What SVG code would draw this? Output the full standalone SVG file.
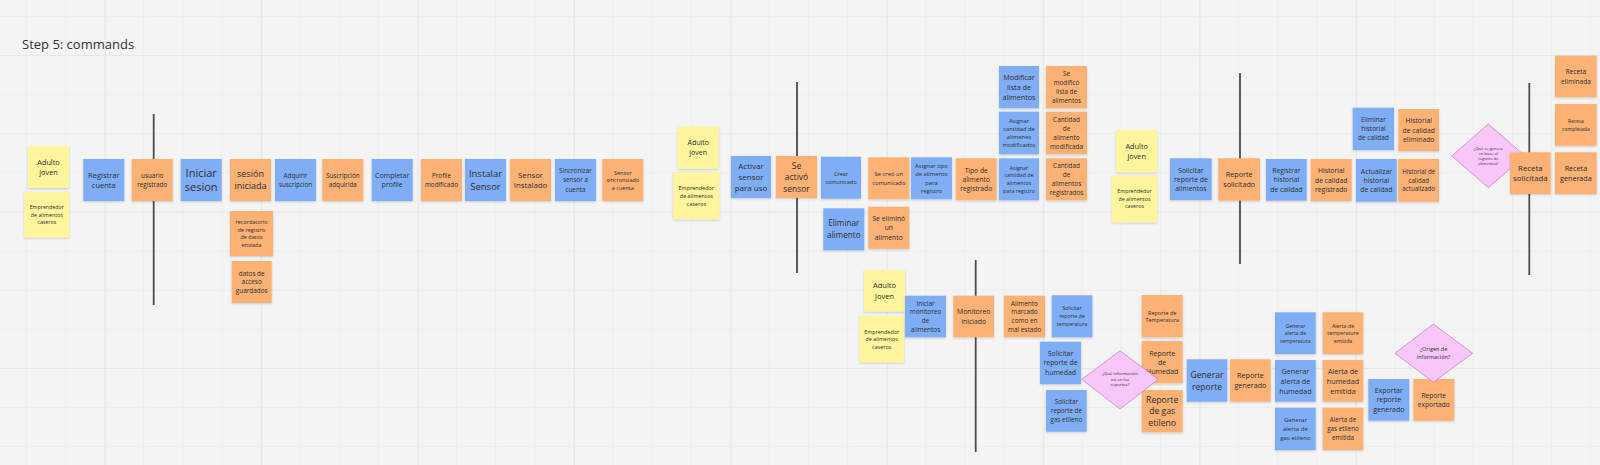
<svg xmlns="http://www.w3.org/2000/svg" width="1600" height="465" viewBox="0 0 1600 465">
<style>
.t{font-family:"Open Sans","Noto Sans",sans-serif;fill:#2e2e2e;text-anchor:middle}
.b{fill:#80aef6;filter:url(#sh)}
.o{fill:#fcb274;filter:url(#sh)}
.y{fill:#fff59c;filter:url(#sh)}
.d{fill:#f9c6f9;stroke:#bf7fbf;stroke-width:0.7}
.v{stroke:#4d4d4d;stroke-width:1.8;fill:none}
.title{font-family:"Open Sans","Noto Sans",sans-serif;font-size:13px;fill:#333}
</style>
<defs>
<filter id="sh" x="-10%" y="-10%" width="120%" height="130%">
<feDropShadow dx="0" dy="1" stdDeviation="0.8" flood-color="#000" flood-opacity="0.18"/>
</filter>
<pattern id="gmin" patternUnits="userSpaceOnUse" x="26" y="16" width="39.1" height="39.1">
<path d="M0 0H39.1M0 0V39.1" stroke="#e7e7e7" stroke-width="1" fill="none"/>
</pattern>
<pattern id="gmaj" patternUnits="userSpaceOnUse" x="104.9" y="55.1" width="156.4" height="156.4">
<path d="M0 0H156.4M0 0V156.4" stroke="#e0e0e0" stroke-width="1" fill="none"/>
</pattern>
</defs>
<rect width="1600" height="465" fill="#f4f4f4"/>
<rect width="1600" height="465" fill="url(#gmin)"/>
<rect width="1600" height="465" fill="url(#gmaj)"/>
<text class="title" x="22" y="49">Step 5: commands</text>

<g id="dividers">
<line class="v" x1="153.7" y1="114" x2="153.7" y2="305"/>
<line class="v" x1="797" y1="82" x2="797" y2="273"/>
<line class="v" x1="975.7" y1="260" x2="975.7" y2="452"/>
<line class="v" x1="1240" y1="73" x2="1240" y2="264"/>
<line class="v" x1="1529.3" y1="83" x2="1529.3" y2="275"/>
</g>
<g id="connectors"/>

<g id="n-adulto1"><rect class="y" x="28" y="146" width="41" height="42"/><text class="t" font-size="7.3"><tspan x="48.5" y="164.6">Adulto</tspan><tspan x="48.5" y="174.6">joven</tspan></text></g>
<g id="n-empr1"><rect class="y" x="24.3" y="192.3" width="45" height="45"/><text class="t" font-size="5.3"><tspan x="46.8" y="209.2">Emprendedor</tspan><tspan x="46.8" y="216.7">de alimentos</tspan><tspan x="46.8" y="224.2">caseros</tspan></text></g>
<g id="n-registrar"><rect class="b" x="83.3" y="159" width="41" height="42"/><text class="t" font-size="7.5"><tspan x="103.8" y="177.7">Registrar</tspan><tspan x="103.8" y="187.7">cuenta</tspan></text></g>
<g id="n-usuario"><rect class="o" x="131.7" y="159" width="41" height="42"/><text class="t" font-size="6.3"><tspan x="152.2" y="177.6">usuario</tspan><tspan x="152.2" y="186.9">registrado</tspan></text></g>
<g id="n-iniciar"><rect class="b" x="180.7" y="159" width="41" height="42"/><text class="t" font-size="11"><tspan x="201.2" y="176.6">Iniciar</tspan><tspan x="201.2" y="191.3">sesion</tspan></text></g>
<g id="n-sesion"><rect class="o" x="230" y="159" width="41" height="42"/><text class="t" font-size="9"><tspan x="250.5" y="177.1">sesión</tspan><tspan x="250.5" y="189.4">iniciada</tspan></text></g>
<g id="n-recordatorio"><rect class="o" x="230" y="211" width="43" height="45"/><text class="t" font-size="5.5"><tspan x="251.5" y="223.8">recordatorio</tspan><tspan x="251.5" y="231.6">de registro</tspan><tspan x="251.5" y="239.4">de datos</tspan><tspan x="251.5" y="247.2">enviada</tspan></text></g>
<g id="n-datos"><rect class="o" x="231.7" y="261" width="40" height="42"/><text class="t" font-size="6.4"><tspan x="251.7" y="275.5">datos de</tspan><tspan x="251.7" y="284.3">acceso</tspan><tspan x="251.7" y="293.1">guardados</tspan></text></g>
<g id="n-adquirir"><rect class="b" x="275" y="159" width="41" height="42"/><text class="t" font-size="6.3"><tspan x="295.5" y="177.9">Adquirir</tspan><tspan x="295.5" y="186.6">suscripcion</tspan></text></g>
<g id="n-suscripcion"><rect class="o" x="322.3" y="159" width="41" height="42"/><text class="t" font-size="6.3"><tspan x="342.8" y="177.9">Suscripción</tspan><tspan x="342.8" y="186.6">adquirida</tspan></text></g>
<g id="n-completar"><rect class="b" x="371.7" y="159" width="41" height="42"/><text class="t" font-size="7"><tspan x="392.2" y="177.9">Completar</tspan><tspan x="392.2" y="187.2">profile</tspan></text></g>
<g id="n-profile"><rect class="o" x="421" y="159" width="41" height="42"/><text class="t" font-size="6.3"><tspan x="441.5" y="177.8">Profile</tspan><tspan x="441.5" y="186.8">modificado</tspan></text></g>
<g id="n-instalar"><rect class="b" x="465" y="159" width="41" height="42"/><text class="t" font-size="9.5"><tspan x="485.5" y="177.3">Instalar</tspan><tspan x="485.5" y="189.6">Sensor</tspan></text></g>
<g id="n-sensorinst"><rect class="o" x="510" y="159" width="41" height="42"/><text class="t" font-size="7.8"><tspan x="530.5" y="177.5">Sensor</tspan><tspan x="530.5" y="188.2">Instalado</tspan></text></g>
<g id="n-sincronizar"><rect class="b" x="555" y="159" width="41" height="42"/><text class="t" font-size="6.3"><tspan x="575.5" y="173.1">Sincronizar</tspan><tspan x="575.5" y="182.3">sensor a</tspan><tspan x="575.5" y="191.5">cuenta</tspan></text></g>
<g id="n-sincronizado"><rect class="o" x="602.3" y="159" width="41" height="42"/><text class="t" font-size="5.5"><tspan x="622.8" y="174.5">Sensor</tspan><tspan x="622.8" y="182">sincronizado</tspan><tspan x="622.8" y="189.5">a cuenta</tspan></text></g>
<g id="n-adulto2"><rect class="y" x="677.7" y="126.7" width="41" height="42"/><text class="t" font-size="7"><tspan x="698.2" y="145.2">Adulto</tspan><tspan x="698.2" y="155.2">joven</tspan></text></g>
<g id="n-empr2"><rect class="y" x="673.3" y="172.3" width="46" height="47"/><text class="t" font-size="5.5"><tspan x="696.3" y="190.1">Emprendedor</tspan><tspan x="696.3" y="197.8">de alimentos</tspan><tspan x="696.3" y="205.5">caseros</tspan></text></g>
<g id="n-activar"><rect class="b" x="731" y="156" width="40" height="42"/><text class="t" font-size="8"><tspan x="751" y="168.9">Activar</tspan><tspan x="751" y="179.9">sensor</tspan><tspan x="751" y="190.9">para uso</tspan></text></g>
<g id="n-activo"><rect class="o" x="776" y="156" width="41" height="42"/><text class="t" font-size="8.5"><tspan x="796.5" y="168.6">Se</tspan><tspan x="796.5" y="180.1">activó</tspan><tspan x="796.5" y="191.6">sensor</tspan></text></g>
<g id="n-crear"><rect class="b" x="821" y="156.7" width="40" height="42"/><text class="t" font-size="5.5"><tspan x="841" y="175.5">Crear</tspan><tspan x="841" y="183.8">comunicado</tspan></text></g>
<g id="n-secreo"><rect class="o" x="868.3" y="157.3" width="41" height="42"/><text class="t" font-size="5.8"><tspan x="888.8" y="175.9">Se creó un</tspan><tspan x="888.8" y="184.9">comunicado</tspan></text></g>
<g id="n-asignartipo"><rect class="b" x="911" y="157.3" width="41" height="42"/><text class="t" font-size="5.9"><tspan x="931.5" y="168">Asignar tipo</tspan><tspan x="931.5" y="176.3">de alimento</tspan><tspan x="931.5" y="184.6">para</tspan><tspan x="931.5" y="192.9">registro</tspan></text></g>
<g id="n-tipo"><rect class="o" x="955.7" y="158.3" width="41" height="42"/><text class="t" font-size="6.7"><tspan x="976.2" y="172.5">Tipo de</tspan><tspan x="976.2" y="181.7">alimento</tspan><tspan x="976.2" y="190.9">registrado</tspan></text></g>
<g id="n-asignarcant"><rect class="b" x="999" y="158.3" width="40" height="42"/><text class="t" font-size="5.3"><tspan x="1019" y="169.8">Asignar</tspan><tspan x="1019" y="177.4">cantidad de</tspan><tspan x="1019" y="185">alimentos</tspan><tspan x="1019" y="192.6">para registro</tspan></text></g>
<g id="n-cantreg"><rect class="o" x="1046" y="158.3" width="41" height="42"/><text class="t" font-size="6.4"><tspan x="1066.5" y="168.4">Cantidad</tspan><tspan x="1066.5" y="177.2">de</tspan><tspan x="1066.5" y="186">alimentos</tspan><tspan x="1066.5" y="194.8">registrados</tspan></text></g>
<g id="n-asignarmod"><rect class="b" x="999" y="111.7" width="40" height="42.6"/><text class="t" font-size="5.8"><tspan x="1019" y="123.1">Asignar</tspan><tspan x="1019" y="131.1">cantidad de</tspan><tspan x="1019" y="139.1">alimenes</tspan><tspan x="1019" y="147.1">modificados</tspan></text></g>
<g id="n-cantmod"><rect class="o" x="1046" y="111.7" width="41" height="42.6"/><text class="t" font-size="6.4"><tspan x="1066.5" y="122.1">Cantidad</tspan><tspan x="1066.5" y="130.9">de</tspan><tspan x="1066.5" y="139.7">alimento</tspan><tspan x="1066.5" y="148.5">modificada</tspan></text></g>
<g id="n-modificar"><rect class="b" x="999" y="66" width="40" height="42.3"/><text class="t" font-size="7.2"><tspan x="1019" y="79.8">Modificar</tspan><tspan x="1019" y="89.8">lista de</tspan><tspan x="1019" y="99.8">alimentos</tspan></text></g>
<g id="n-semodif"><rect class="o" x="1046" y="66" width="41" height="42.3"/><text class="t" font-size="6.3"><tspan x="1066.5" y="76.4">Se</tspan><tspan x="1066.5" y="85.1">modificó</tspan><tspan x="1066.5" y="93.8">lista de</tspan><tspan x="1066.5" y="102.5">alimentos</tspan></text></g>
<g id="n-eliminar"><rect class="b" x="823.3" y="208.3" width="41" height="42"/><text class="t" font-size="8.2"><tspan x="843.8" y="226.4">Eliminar</tspan><tspan x="843.8" y="238.1">alimento</tspan></text></g>
<g id="n-seelim"><rect class="o" x="868.3" y="206.7" width="41" height="42"/><text class="t" font-size="6.8"><tspan x="888.8" y="220.7">Se eliminó</tspan><tspan x="888.8" y="230.2">un</tspan><tspan x="888.8" y="239.7">alimento</tspan></text></g>
<g id="n-adulto3"><rect class="y" x="1116" y="130" width="41.3" height="42.3"/><text class="t" font-size="7.3"><tspan x="1136.7" y="148.8">Adulto</tspan><tspan x="1136.7" y="158.8">joven</tspan></text></g>
<g id="n-empr3"><rect class="y" x="1111.7" y="175.7" width="45.6" height="46.6"/><text class="t" font-size="5.3"><tspan x="1134.5" y="193.4">Emprendedor</tspan><tspan x="1134.5" y="200.9">de alimentos</tspan><tspan x="1134.5" y="208.4">caseros</tspan></text></g>
<g id="n-solicitaralim"><rect class="b" x="1170" y="158.3" width="41.7" height="41.7"/><text class="t" font-size="6.8"><tspan x="1190.9" y="172.5">Solicitar</tspan><tspan x="1190.9" y="181.7">reporte de</tspan><tspan x="1190.9" y="190.9">alimentos</tspan></text></g>
<g id="n-repsolic"><rect class="o" x="1218.3" y="158.3" width="41.7" height="42.3"/><text class="t" font-size="7.2"><tspan x="1239.2" y="177.4">Reporte</tspan><tspan x="1239.2" y="186.7">solicitado</tspan></text></g>
<g id="n-registrarhist"><rect class="b" x="1266" y="159" width="40.7" height="41.7"/><text class="t" font-size="6.8"><tspan x="1286.4" y="172.9">Registrar</tspan><tspan x="1286.4" y="182.4">historial</tspan><tspan x="1286.4" y="191.9">de calidad</tspan></text></g>
<g id="n-histreg"><rect class="o" x="1310.7" y="159" width="41" height="42"/><text class="t" font-size="6.8"><tspan x="1331.2" y="173.2">Historial</tspan><tspan x="1331.2" y="182.5">de calidad</tspan><tspan x="1331.2" y="191.8">registrado</tspan></text></g>
<g id="n-eliminarhist"><rect class="b" x="1352.7" y="107.7" width="41.3" height="42.3"/><text class="t" font-size="6.5"><tspan x="1373.4" y="122">Eliminar</tspan><tspan x="1373.4" y="131.2">historial</tspan><tspan x="1373.4" y="140.4">de calidad</tspan></text></g>
<g id="n-histelim"><rect class="o" x="1398.3" y="109" width="40.7" height="42"/><text class="t" font-size="6.8"><tspan x="1418.7" y="123.3">Historial</tspan><tspan x="1418.7" y="132.5">de calidad</tspan><tspan x="1418.7" y="141.7">eliminado</tspan></text></g>
<g id="n-actualizar"><rect class="b" x="1356" y="159" width="40.7" height="42.7"/><text class="t" font-size="6.8"><tspan x="1376.4" y="173.9">Actualizar</tspan><tspan x="1376.4" y="182.9">historial</tspan><tspan x="1376.4" y="191.9">de calidad</tspan></text></g>
<g id="n-histact"><rect class="o" x="1398.3" y="159" width="40.7" height="42.7"/><text class="t" font-size="6.2"><tspan x="1418.7" y="174">Historial de</tspan><tspan x="1418.7" y="182.6">calidad</tspan><tspan x="1418.7" y="191.2">actualizado</tspan></text></g>
<g id="n-q-receta"><polygon class="d" points="1451.7,155.9 1488.3,124 1525,155.9 1488.3,187.7"/><text class="t" font-size="4"><tspan x="1488.3" y="149.8">¿Qué se genera</tspan><tspan x="1488.3" y="154.8">en base al</tspan><tspan x="1488.3" y="159.8">registro de</tspan><tspan x="1488.3" y="164.8">alimentos?</tspan></text></g>
<g id="n-recsolic"><rect class="o" x="1510" y="152.3" width="40.7" height="41.7"/><text class="t" font-size="7.9"><tspan x="1530.4" y="170.9">Receta</tspan><tspan x="1530.4" y="181.2">solicitada</tspan></text></g>
<g id="n-receli"><rect class="o" x="1555" y="55.7" width="41.7" height="41.6"/><text class="t" font-size="6.5"><tspan x="1575.9" y="73.8">Receta</tspan><tspan x="1575.9" y="83.8">eliminada</tspan></text></g>
<g id="n-reccomp"><rect class="o" x="1555" y="104" width="41.7" height="41.7"/><text class="t" font-size="5"><tspan x="1575.9" y="122.6">Receta</tspan><tspan x="1575.9" y="130.9">completada</tspan></text></g>
<g id="n-recgen"><rect class="o" x="1555" y="152.3" width="41.7" height="41.7"/><text class="t" font-size="7.2"><tspan x="1575.9" y="170.6">Receta</tspan><tspan x="1575.9" y="180.9">generada</tspan></text></g>
<g id="n-adulto4"><rect class="y" x="864" y="270" width="41" height="41.7"/><text class="t" font-size="7.5"><tspan x="884.5" y="288.2">Adulto</tspan><tspan x="884.5" y="298.9">joven</tspan></text></g>
<g id="n-empr4"><rect class="y" x="859.3" y="316" width="44.7" height="46.3"/><text class="t" font-size="5.4"><tspan x="881.7" y="333.6">Emprendedor</tspan><tspan x="881.7" y="341.1">de alimentos</tspan><tspan x="881.7" y="348.6">caseros</tspan></text></g>
<g id="n-iniciarmon"><rect class="b" x="905" y="295.7" width="41" height="41.6"/><text class="t" font-size="6.4"><tspan x="925.5" y="305.6">Iniciar</tspan><tspan x="925.5" y="314.4">monitoreo</tspan><tspan x="925.5" y="323.2">de</tspan><tspan x="925.5" y="332">alimentos</tspan></text></g>
<g id="n-moninic"><rect class="o" x="953.3" y="295.7" width="40.7" height="41.6"/><text class="t" font-size="6.8"><tspan x="973.7" y="314.3">Monitoreo</tspan><tspan x="973.7" y="323.6">iniciado</tspan></text></g>
<g id="n-alimmarc"><rect class="o" x="1004" y="295.7" width="41" height="41.6"/><text class="t" font-size="6.4"><tspan x="1024.5" y="305.6">Alimento</tspan><tspan x="1024.5" y="314.4">marcado</tspan><tspan x="1024.5" y="323.2">como en</tspan><tspan x="1024.5" y="332">mal estado</tspan></text></g>
<g id="n-soltemp"><rect class="b" x="1051.7" y="295.3" width="40.7" height="42"/><text class="t" font-size="5.2"><tspan x="1072" y="310.2">Solicitar</tspan><tspan x="1072" y="318.2">reporte de</tspan><tspan x="1072" y="326.2">temperatura</tspan></text></g>
<g id="n-solhum"><rect class="b" x="1040" y="341.7" width="41" height="42.3"/><text class="t" font-size="6.9"><tspan x="1060.5" y="355.9">Solicitar</tspan><tspan x="1060.5" y="365.4">reporte de</tspan><tspan x="1060.5" y="374.9">humedad</tspan></text></g>
<g id="n-solgas"><rect class="b" x="1046" y="390" width="40.7" height="41.7"/><text class="t" font-size="6.3"><tspan x="1066.4" y="404">Solicitar</tspan><tspan x="1066.4" y="413.2">reporte de</tspan><tspan x="1066.4" y="422.4">gas etileno</tspan></text></g>
<g id="n-reptemp"><rect class="o" x="1141.7" y="295" width="41" height="42.3"/><text class="t" font-size="5.5"><tspan x="1162.2" y="314.5">Reporte de</tspan><tspan x="1162.2" y="321.8">Temperatura</tspan></text></g>
<g id="n-rephum"><rect class="o" x="1141.7" y="341" width="41" height="42.3"/><text class="t" font-size="7"><tspan x="1162.2" y="355.5">Reporte</tspan><tspan x="1162.2" y="364.7">de</tspan><tspan x="1162.2" y="373.9">Humedad</tspan></text></g>
<g id="n-repgas"><rect class="o" x="1141.7" y="390" width="41" height="42.3"/><text class="t" font-size="8.7"><tspan x="1162.2" y="402.5">Reporte</tspan><tspan x="1162.2" y="414.3">de gas</tspan><tspan x="1162.2" y="426.1">etileno</tspan></text></g>
<g id="n-q-reportes"><polygon class="d" points="1081.7,379.3 1120,350.7 1158.3,379.3 1120,409"/><text class="t" font-size="4.3"><tspan x="1120" y="375.4">¿Qué información</tspan><tspan x="1120" y="380.9">irá en los</tspan><tspan x="1120" y="386.4">reportes?</tspan></text></g>
<g id="n-genrep"><rect class="b" x="1186.7" y="359.3" width="40.6" height="42.4"/><text class="t" font-size="8.6"><tspan x="1207" y="377.5">Generar</tspan><tspan x="1207" y="389.8">reporte</tspan></text></g>
<g id="n-repgen"><rect class="o" x="1230" y="359.3" width="40.7" height="42.4"/><text class="t" font-size="7.2"><tspan x="1250.4" y="378.1">Reporte</tspan><tspan x="1250.4" y="388.1">generado</tspan></text></g>
<g id="n-genalt"><rect class="b" x="1275" y="312.3" width="40.7" height="41.7"/><text class="t" font-size="5.2"><tspan x="1295.4" y="327.6">Generar</tspan><tspan x="1295.4" y="335.1">alerta de</tspan><tspan x="1295.4" y="342.6">temperatura</tspan></text></g>
<g id="n-alttemp"><rect class="o" x="1322.7" y="312.3" width="40.6" height="41.7"/><text class="t" font-size="5.3"><tspan x="1343" y="327.6">Alerta de</tspan><tspan x="1343" y="335.1">temperature</tspan><tspan x="1343" y="342.6">emitida</tspan></text></g>
<g id="n-genalh"><rect class="b" x="1275" y="360" width="40.7" height="41.7"/><text class="t" font-size="7.2"><tspan x="1295.4" y="373.5">Generar</tspan><tspan x="1295.4" y="383.5">alerta de</tspan><tspan x="1295.4" y="393.5">humedad</tspan></text></g>
<g id="n-alth"><rect class="o" x="1322.7" y="360" width="40.6" height="41.7"/><text class="t" font-size="7.2"><tspan x="1343" y="373.5">Alerta de</tspan><tspan x="1343" y="383.5">humedad</tspan><tspan x="1343" y="393.5">emitida</tspan></text></g>
<g id="n-genalg"><rect class="b" x="1275" y="407.7" width="40.7" height="42.3"/><text class="t" font-size="6"><tspan x="1295.4" y="422.3">Generar</tspan><tspan x="1295.4" y="431.1">alerta de</tspan><tspan x="1295.4" y="439.9">gas etileno</tspan></text></g>
<g id="n-altg"><rect class="o" x="1322.7" y="407.7" width="40.6" height="42.3"/><text class="t" font-size="6.3"><tspan x="1343" y="422.4">Alerta de</tspan><tspan x="1343" y="431.2">gas etileno</tspan><tspan x="1343" y="440">emitida</tspan></text></g>
<g id="n-export"><rect class="b" x="1368.3" y="379" width="41" height="41.7"/><text class="t" font-size="7"><tspan x="1388.8" y="392.7">Exportar</tspan><tspan x="1388.8" y="402.4">reporte</tspan><tspan x="1388.8" y="412.1">generado</tspan></text></g>
<g id="n-repexp"><rect class="o" x="1413.3" y="379" width="41" height="41.7"/><text class="t" font-size="6.6"><tspan x="1433.8" y="397.6">Reporte</tspan><tspan x="1433.8" y="406.9">exportado</tspan></text></g>
<g id="n-q-origen"><polygon class="d" points="1395,353.3 1433.3,324 1472.7,353.3 1433.3,382.3"/><text class="t" font-size="5.5"><tspan x="1433.5" y="351.3">¿Origen de</tspan><tspan x="1433.5" y="359.3">información?</tspan></text></g>
</svg>
